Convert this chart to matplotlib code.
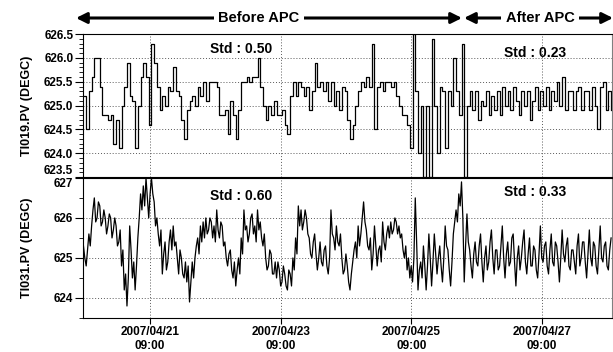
import numpy as np
import pandas as pd
import matplotlib
matplotlib.use("Agg")
import matplotlib.pyplot as plt
import matplotlib.dates as mdates
from matplotlib.ticker import MultipleLocator, FormatStrFormatter

plt.rcParams['font.family'] = ['Liberation Sans', 'DejaVu Sans']
plt.rcParams['font.weight'] = 'bold'

start_time = "2007-04-20 08:30"

# TI019, hourly samples
ti019 = [
    625.2, 624.5, 625.3, 625.6, 626.0, 626.0, 625.4, 624.8, 624.8, 624.7,
    624.8, 624.2, 624.7, 624.1, 625.0, 625.4, 625.9, 625.2, 625.1, 624.1,
    625.0, 625.6, 625.9, 625.6, 624.6, 626.3, 625.9, 625.4, 624.9, 625.2,
    625.0, 625.4, 625.3, 625.8, 625.3, 625.2, 624.7, 624.3, 624.9, 625.1,
    625.2, 625.0, 625.4, 625.2, 625.5, 625.1, 625.5, 625.5, 625.5, 625.4,
    624.8, 624.8, 624.9, 624.4, 625.1, 624.8, 624.3, 624.9, 625.5, 625.5,
    625.6, 625.5, 625.6, 625.6, 626.0, 625.4, 625.0, 624.7, 625.0, 624.8,
    625.1, 624.8, 624.8, 624.9, 624.6, 624.4, 625.2, 625.5, 625.2, 625.5,
    625.4, 625.2, 625.4, 624.9, 625.3, 625.9, 625.4, 625.5, 625.3, 625.5,
    625.1, 625.5, 625.0, 625.3, 624.9, 625.4, 625.3, 624.7, 624.3, 624.6,
    625.0, 625.3, 625.5, 625.4, 625.6, 625.4, 626.3, 624.5, 625.4, 625.5,
    625.3, 625.5, 625.5, 625.4, 625.5, 625.2, 625.0, 624.8, 624.8, 624.6,
    624.1, 626.5, 625.3, 624.0, 625.0, 623.5, 625.0, 623.5, 626.4, 625.0,
    624.0, 625.4, 625.3, 624.1, 625.3, 625.0, 626.0, 625.3, 624.8, 626.3,
    623.5, 625.0, 625.3, 624.9, 625.3, 624.7, 625.1, 625.0, 625.3, 624.8,
    625.2, 624.9, 625.3, 624.8, 625.4, 625.0, 625.3, 624.9, 625.4, 625.1,
    624.8, 625.3, 625.0, 625.3, 624.7, 625.1, 625.4, 624.9, 625.3, 625.0,
    625.4, 624.9, 625.3, 625.1, 625.5, 625.0, 625.6, 624.9, 625.3, 625.3,
    624.9, 625.3, 625.4, 624.9, 625.3, 625.3, 624.9, 625.4, 625.0, 624.5,
    625.4, 625.5, 624.9, 625.3, 624.9,
]

# TI031, half-hourly samples
ti031 = [
    625.3, 625.0, 624.8, 625.2, 625.6, 625.3, 625.8, 626.2, 626.5, 625.9,
    626.0, 626.4, 626.3, 625.8, 625.9, 626.2, 626.0, 625.6, 625.8, 626.1,
    626.0, 625.5, 625.7, 626.0, 625.8, 625.3, 625.4, 625.7, 624.8, 625.2,
    624.2, 624.6, 623.8, 624.5, 625.8, 625.2, 624.5, 624.9, 624.2, 624.8,
    625.5, 626.0, 626.6, 626.2, 626.8, 626.3, 627.0, 626.5, 626.0, 626.6,
    627.0, 626.6, 626.4, 625.8, 626.0, 625.6, 625.3, 625.7, 624.6, 625.1,
    625.4, 624.7, 624.9, 625.4, 625.7, 625.2, 625.8, 625.3, 625.4, 625.0,
    624.6, 625.2, 625.0, 624.6, 624.5, 624.9, 624.4, 624.8, 623.9, 624.4,
    624.9, 624.5, 625.0, 625.3, 625.5, 625.1, 625.8, 625.4, 625.9, 625.5,
    626.0, 625.6, 625.7, 626.0, 625.9, 625.5, 625.8, 625.4, 626.2, 625.7,
    625.5, 625.9, 625.8, 625.3, 625.4, 625.0, 624.8, 625.1, 625.2, 624.7,
    624.5, 624.9, 624.3, 624.7, 625.0, 624.6, 625.5, 625.1, 626.2, 625.7,
    625.8, 625.4, 625.6, 626.0, 626.1, 625.6, 625.8, 625.4, 626.2, 625.7,
    625.9, 625.5, 625.3, 625.6, 625.0, 624.7, 624.8, 625.2, 625.1, 624.6,
    624.6, 624.9, 624.5, 624.9, 624.7, 624.3, 624.4, 624.8, 624.6, 624.3,
    624.2, 624.7, 624.6, 624.3, 625.0, 624.7, 625.5, 625.1, 626.3, 625.8,
    626.2, 625.7, 625.9, 626.2, 626.0, 625.6, 625.5, 625.1, 625.0, 625.4,
    625.6, 625.1, 624.7, 625.0, 625.4, 624.9, 624.8, 625.2, 625.3, 624.8,
    624.6, 625.0, 626.2, 625.6, 625.5, 625.2, 625.8, 625.4, 625.3, 625.6,
    625.0, 624.6, 624.7, 625.1, 624.8, 624.4, 624.2, 624.6, 624.9, 625.2,
    625.4, 625.0, 625.8, 625.3, 625.6, 626.0, 626.4, 625.9, 625.7, 625.3,
    625.2, 625.5, 624.7, 625.1, 625.8, 625.3, 624.8, 625.2, 625.3, 624.9,
    625.9, 625.4, 625.2, 625.6, 625.8, 625.5, 625.9, 625.6, 625.7, 626.0,
    625.9, 625.6, 625.8, 625.5, 625.6, 625.2, 625.0, 625.3, 624.7, 625.0,
    624.5, 624.8, 624.4, 625.0, 626.5, 625.4, 624.2, 624.7, 624.9, 624.5,
    625.3, 624.8, 624.2, 624.8, 625.6, 625.0, 624.3, 624.9, 625.6, 625.1,
    624.6, 625.0, 625.3, 624.8, 624.4, 625.0, 625.8, 625.3, 625.2, 624.7,
    624.3, 624.9, 625.6, 625.9, 626.2, 625.9, 626.6, 626.3, 626.9, 626.0,
    624.4, 625.3, 626.1, 625.4, 625.2, 624.8, 624.5, 625.1, 625.4, 624.9,
    624.8, 625.3, 625.6, 624.9, 624.4, 625.0, 625.3, 624.7, 624.9, 625.4,
    625.7, 625.0, 624.6, 625.2, 625.2, 624.7, 624.8, 625.3, 625.8, 625.0,
    624.5, 625.1, 625.4, 624.8, 624.9, 625.5, 625.6, 624.9, 624.3, 625.0,
    625.3, 624.7, 625.0, 625.4, 625.7, 624.9, 624.6, 625.1, 625.5, 624.8,
    624.8, 625.3, 625.2, 624.7, 624.5, 625.1, 625.8, 625.0, 624.9, 625.3,
    625.4, 624.8, 624.6, 625.2, 625.6, 624.9, 624.8, 625.4, 625.3, 624.9,
    624.4, 625.0, 625.7, 625.1, 624.9, 625.3, 625.5, 624.8, 624.7, 625.2,
    625.2, 624.9, 624.6, 625.3, 625.6, 624.8, 625.0, 625.4, 625.4, 624.9,
    624.5, 625.1, 625.7, 625.0, 624.8, 625.4, 625.3, 624.8, 624.6, 625.2,
    625.8, 625.0, 624.9, 625.3, 625.4, 624.8, 624.7, 625.2, 625.5,
]

std_before = ["Std : 0.50", "Std : 0.60"]
std_after = ["Std : 0.23", "Std : 0.33"]
tick_dates = ["2007-04-21 09:00", "2007-04-23 09:00", "2007-04-25 09:00", "2007-04-27 09:00"]

t1 = pd.date_range(start_time, periods=len(ti019), freq="h")
t2 = pd.date_range(start_time, periods=len(ti031), freq="30min")
xmin = pd.Timestamp("2007-04-20 08:20")
xmax = pd.Timestamp("2007-04-28 10:45")

fig = plt.figure(figsize=(6.13, 3.52), dpi=100)
ax1 = fig.add_axes([0.1354, 0.497, 0.8626, 0.406])
ax2 = fig.add_axes([0.1354, 0.0966, 0.8626, 0.398])

grid_kw = dict(color='0.35', linestyle=(0, (1, 2)), linewidth=0.7)

ax1.plot(t1, ti019, color='black', linewidth=0.9, drawstyle='steps-post')
ax2.plot(t2, ti031, color='black', linewidth=0.9)

for ax in (ax1, ax2):
    ax.set_xlim(xmin, xmax)
    ax.set_xticks(pd.to_datetime(tick_dates))
    ax.grid(True, which='major', **grid_kw)
    for s in ax.spines.values():
        s.set_linewidth(0.8)
    ax.spines['right'].set_color('0.5')
    ax.tick_params(axis='y', which='major', length=6, labelsize=8.5, pad=1)
    ax.tick_params(axis='y', which='minor', length=3)
    ax.tick_params(axis='x', length=4)
    ax.yaxis.set_label_coords(-0.094, 0.5)

# top panel: TI019
ax1.set_ylim(623.5, 626.5)
ax1.set_yticks([623.5, 624.0, 624.5, 625.0, 625.5, 626.0, 626.5])
ax1.yaxis.set_minor_locator(MultipleLocator(0.1))
ax1.yaxis.set_major_formatter(FormatStrFormatter('%.1f'))
ax1.tick_params(axis='x', labelbottom=False, length=0)
ax1.set_ylabel("TI019.PV (DEGC)", fontsize=9, fontweight='bold')

# bottom panel: TI031
ax2.set_ylim(623.5, 627)
ax2.set_yticks([624, 625, 626, 627])
ax2.yaxis.set_minor_locator(MultipleLocator(0.5))
ax2.yaxis.set_major_formatter(FormatStrFormatter('%d'))
ax2.xaxis.set_major_formatter(mdates.DateFormatter('%Y/%m/%d\n%H:%M'))
ax2.tick_params(axis='x', labelsize=8.5, pad=2)
ax2.set_ylabel("TI031.PV (DEGC)", fontsize=9, fontweight='bold')

fig.canvas.draw()
for lab in ax1.get_yticklabels() + ax2.get_yticklabels() + ax2.get_xticklabels():
    lab.set_fontweight('bold')
# keep the 623.5 and 627 labels apart where the panels meet
for tick in ax1.yaxis.get_major_ticks():
    if abs(tick.get_loc() - 623.5) < 1e-6:
        tick.label1.set_va('bottom')
for tick in ax2.yaxis.get_major_ticks():
    if abs(tick.get_loc() - 627) < 1e-6:
        tick.label1.set_va('top')

# standard deviation labels before / after APC
ax1.text(0.24, 0.87, std_before[0], transform=ax1.transAxes, fontsize=10, fontweight='bold')
ax1.text(0.797, 0.84, std_after[0], transform=ax1.transAxes, fontsize=10, fontweight='bold')
ax2.text(0.24, 0.84, std_before[1], transform=ax2.transAxes, fontsize=10, fontweight='bold')
ax2.text(0.797, 0.87, std_after[1], transform=ax2.transAxes, fontsize=10, fontweight='bold')

# arrows marking the periods before and after APC
arrow_kw = dict(arrowstyle='<|-|>', lw=2.2, color='black', mutation_scale=16, shrinkA=0, shrinkB=0)
ya = 352 - 18
fig.add_artist(plt.Annotation('', xy=(76, ya), xytext=(462, ya), xycoords='figure pixels',
                              textcoords='figure pixels', arrowprops=arrow_kw))
fig.add_artist(plt.Annotation('', xy=(464, ya), xytext=(613, ya), xycoords='figure pixels',
                              textcoords='figure pixels', arrowprops=arrow_kw))
box = dict(facecolor='white', edgecolor='none', pad=3)
fig.text(259 / 613, ya / 352, "Before APC", ha='center', va='center', fontsize=10.5,
         fontweight='bold', bbox=box)
fig.text(540 / 613, ya / 352, "After APC", ha='center', va='center', fontsize=10.5,
         fontweight='bold', bbox=box)

fig.savefig("out.png", dpi=100)
